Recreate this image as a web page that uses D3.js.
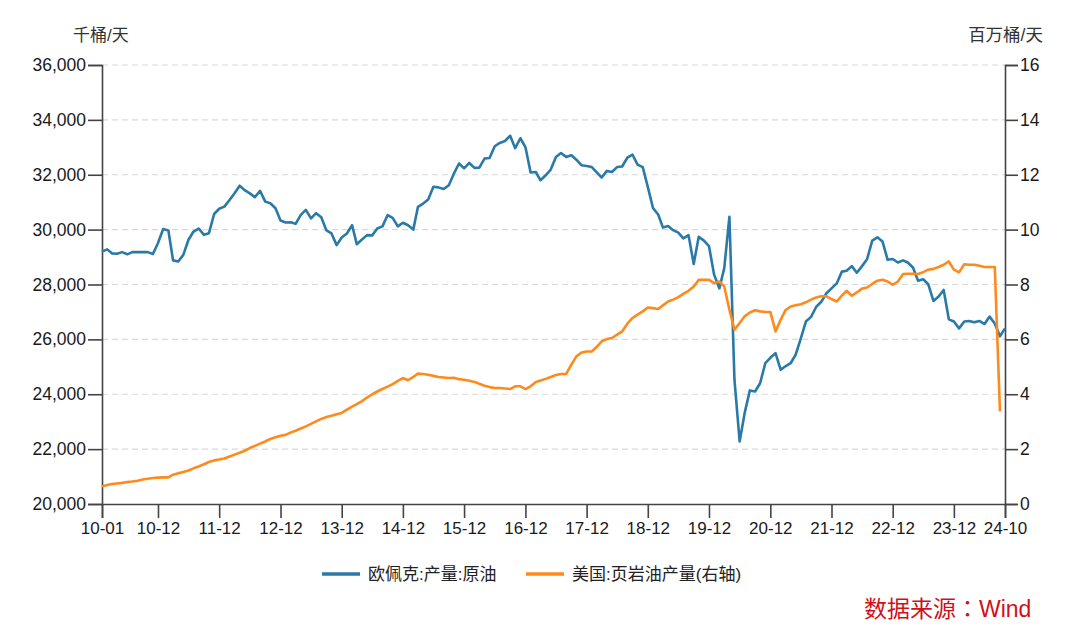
<!DOCTYPE html>
<html><head><meta charset="utf-8">
<script src="https://cdn.jsdelivr.net/npm/d3@7"></script>
<style>
html,body{margin:0;padding:0;background:#fff;}
svg{display:block;font-family:"Liberation Sans",Arial,"Noto Sans CJK SC",sans-serif;}
</style></head>
<body><svg id="c" width="1080" height="642"></svg>
<script>
// ---- data ----
const startMonth = "2010-01";
const endMonth = "2024-10";
// OPEC crude production, thousand barrels/day (left axis)
const opec = [
29200,29280,29135,29120,29180,29100,29180,29180,29180,29180,29110,29510,
30020,29970,28880,28840,29080,29630,29930,30040,29810,29870,30570,30760,
30840,31080,31320,31600,31440,31320,31180,31410,31020,30960,30780,30330,
30260,30270,30210,30540,30720,30410,30600,30450,29970,29860,29435,29715,
29860,30160,29470,29640,29800,29790,30040,30120,30530,30430,30120,30250,
30160,30000,30830,30950,31100,31560,31540,31480,31620,32040,32410,32230,
32430,32250,32260,32590,32610,33040,33160,33230,33420,32970,33330,33010,
32080,32100,31800,31980,32190,32650,32790,32650,32710,32550,32345,32320,
32280,32080,31900,32140,32100,32280,32300,32620,32730,32370,32280,31560,
30790,30550,30080,30130,29980,29890,29680,29800,28750,29740,29600,29400,
28350,27860,28590,30470,24530,22280,23320,24140,24100,24400,25130,25330,
25500,24890,25020,25130,25440,26040,26650,26820,27190,27370,27680,27860,
28040,28470,28500,28670,28430,28670,28920,29600,29720,29570,28900,28930,
28800,28880,28800,28620,28140,28190,28010,27400,27560,27800,26730,26650,
26400,26650,26670,26620,26670,26560,26830,26580,26110,26400
];
// US shale oil production, million barrels/day (right axis)
const shale = [
0.64,0.69,0.73,0.75,0.77,0.80,0.82,0.85,0.89,0.92,0.95,0.96,
0.97,0.97,1.07,1.12,1.17,1.22,1.30,1.37,1.45,1.53,1.59,1.62,
1.66,1.73,1.80,1.87,1.94,2.04,2.12,2.20,2.28,2.37,2.43,2.49,
2.52,2.61,2.67,2.75,2.83,2.92,3.01,3.10,3.17,3.22,3.27,3.32,
3.44,3.55,3.64,3.75,3.88,4.00,4.10,4.19,4.28,4.37,4.49,4.59,
4.51,4.63,4.75,4.74,4.71,4.67,4.63,4.61,4.59,4.60,4.55,4.53,
4.49,4.45,4.38,4.31,4.26,4.23,4.23,4.21,4.19,4.29,4.29,4.19,
4.29,4.45,4.50,4.56,4.63,4.70,4.74,4.74,5.08,5.38,5.52,5.56,
5.56,5.74,5.93,6.01,6.05,6.17,6.29,6.57,6.78,6.90,7.02,7.16,
7.14,7.11,7.24,7.38,7.45,7.54,7.66,7.77,7.93,8.17,8.17,8.17,
8.05,8.11,7.93,7.08,6.35,6.60,6.84,6.98,7.06,7.02,7.00,7.00,
6.29,6.72,7.06,7.20,7.24,7.28,7.35,7.45,7.53,7.57,7.57,7.47,
7.38,7.60,7.77,7.59,7.71,7.85,7.89,8.02,8.14,8.17,8.11,7.99,
8.11,8.38,8.39,8.39,8.38,8.45,8.54,8.57,8.64,8.72,8.84,8.54,
8.44,8.74,8.72,8.72,8.68,8.64,8.64,8.64,3.37
];
const xTickLabels = ["10-01","10-12","11-12","12-12","13-12","14-12","15-12","16-12","17-12","18-12","19-12","20-12","21-12","22-12","23-12","24-10"];
const leftTicks = [20000,22000,24000,26000,28000,30000,32000,34000,36000];
const rightTicks = [0,2,4,6,8,10,12,14,16];
const seriesNames = ["欧佩克:产量:原油","美国:页岩油产量(右轴)"];
const leftUnit = "千桶/天", rightUnit = "百万桶/天";
const sourceParts = ["数据来源", "：", "Wind"];

// ---- drawing ----
const svg = d3.select("#c");
const L = 102, R = 1005, T = 65, B = 504;
const parseM = d3.timeParse("%Y-%m");
const parseTick = d3.timeParse("%y-%m");
const months = d3.timeMonth.range(parseM(startMonth), d3.timeMonth.offset(parseM(endMonth),1));
const x = d3.scaleTime().domain([parseM(startMonth), parseM(endMonth)]).range([L, R]);
const yL = d3.scaleLinear().domain([20000,36000]).range([B, T]);
const yR = d3.scaleLinear().domain([0,16]).range([B, T]);

const blue = "#2a7aa8", orange = "#ff8a1c", axisCol = "#444", txt = "#1a1a1a";

// grid
svg.append("g").selectAll("line").data(leftTicks.slice(1)).join("line")
  .attr("x1", L).attr("x2", R).attr("y1", d=>yL(d)).attr("y2", d=>yL(d))
  .attr("stroke","#d9d9d9").attr("stroke-width",1.2).attr("stroke-dasharray","6,4");

// axes
const fmt = d3.format(",");
const gL = svg.append("g").attr("transform",`translate(${L},0)`)
  .call(d3.axisLeft(yL).tickValues(leftTicks).tickFormat(fmt).tickSize(14).tickPadding(2));
const gR = svg.append("g").attr("transform",`translate(${R},0)`)
  .call(d3.axisRight(yR).tickValues(rightTicks).tickSize(13).tickPadding(2));
const tickDates = xTickLabels.map(s=>parseTick(s));
const gX = svg.append("g").attr("transform",`translate(0,${B})`)
  .call(d3.axisBottom(x).tickValues(tickDates).tickFormat(d3.timeFormat("%y-%m")).tickSize(14).tickPadding(4));
[gL,gR,gX].forEach(g=>{
  g.select(".domain").attr("stroke",axisCol).attr("stroke-width",1.6);
  g.selectAll(".tick line").attr("stroke",axisCol).attr("stroke-width",1.6);
  g.selectAll("text").attr("fill",txt).style("font-size","17.5px")
   .style("font-family",'"Liberation Sans",Arial,sans-serif');
});
gX.selectAll("text").style("font-size","17px");

// lines
const lineL = d3.line().x((d,i)=>x(months[i])).y(d=>yL(d));
const lineR = d3.line().x((d,i)=>x(months[i])).y(d=>yR(d));
svg.append("path").datum(opec).attr("d",lineL).attr("fill","none")
  .attr("stroke",blue).attr("stroke-width",2.6).attr("stroke-linejoin","round");
svg.append("path").datum(shale).attr("d",lineR).attr("fill","none")
  .attr("stroke",orange).attr("stroke-width",2.6).attr("stroke-linejoin","round");

// unit labels
svg.append("text").attr("x",73).attr("y",41).text(leftUnit)
  .attr("fill","#333").style("font-size","17px");
svg.append("text").attr("x",1043).attr("y",41).attr("text-anchor","end").text(rightUnit)
  .attr("fill","#333").style("font-size","17.5px");

// legend
const lg = [{x:322,c:blue,t:seriesNames[0]},{x:526,c:orange,t:seriesNames[1]}];
lg.forEach(o=>{
  svg.append("line").attr("x1",o.x).attr("x2",o.x+38).attr("y1",574).attr("y2",574)
    .attr("stroke",o.c).attr("stroke-width",3.5);
  svg.append("text").attr("x",o.x+46).attr("y",580).text(o.t)
    .attr("fill","#222").style("font-size","17px");
});

// source
const src = svg.append("text").attr("x",864).attr("y",617)
  .attr("fill","#d0101b").style("font-size","23px");
src.append("tspan").text(sourceParts[0]);
src.append("tspan").text(sourceParts[1]).style("font-family",'"Noto Sans CJK TC",sans-serif');
src.append("tspan").text(sourceParts[2]);
</script></body></html>
